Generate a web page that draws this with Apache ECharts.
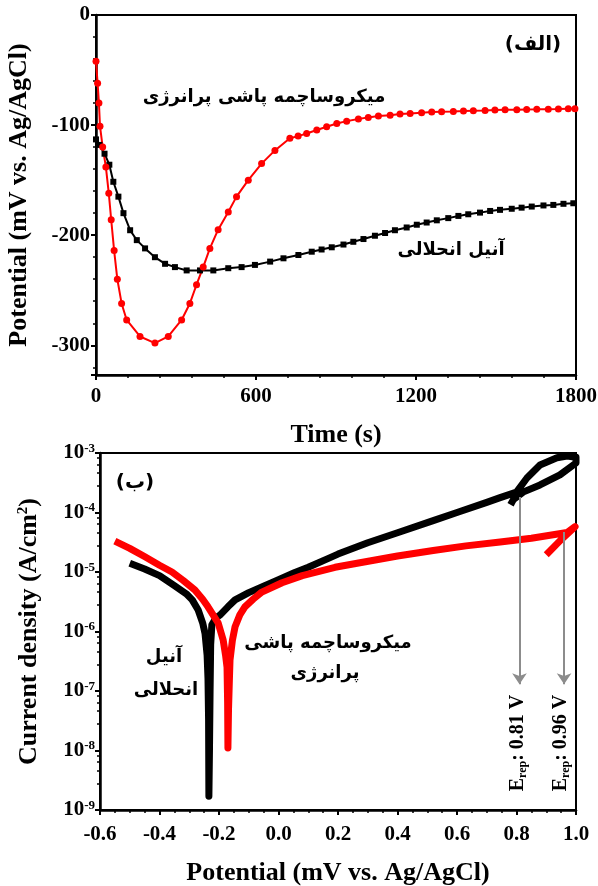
<!DOCTYPE html>
<html dir="ltr">
<head>
<meta charset="utf-8">
<script src="https://cdn.jsdelivr.net/npm/echarts@6/dist/echarts.min.js"></script>
<style>
  html, body { margin: 0; padding: 0; background: #fff; }
  #main { width: 598px; height: 886px; }
</style>
</head>
<body>
<div id="main"></div>
<script>
  // (الف) open circuit potential vs time
  var shotTime = [0, 6, 11, 15, 25, 37, 48, 57, 68, 80, 96, 115, 165, 221, 271, 321, 352, 377, 402, 427,
    458, 496, 527, 571, 621, 671, 727, 758, 790, 828, 865, 903, 940, 984, 1021, 1059, 1103, 1140, 1178, 1221,
    1259, 1296, 1340, 1378, 1415, 1459, 1496, 1534, 1578, 1615, 1653, 1696, 1734, 1771, 1796];
  var shotOcp = [-42, -62, -80, -101, -120, -138, -162, -186, -214, -240, -262, -277, -292, -298, -292, -277, -262, -245, -229, -212,
    -195, -179, -165, -150, -135, -123, -112, -110, -107.6, -104.5, -101.5, -98.5, -96.4, -94.5, -93, -91.8, -91, -90, -89.4, -88.8,
    -88.2, -87.9, -87.6, -87.3, -87, -86.7, -86.4, -86.1, -86, -85.8, -85.7, -85.5, -85.4, -85.2, -85.1];

  var annealTime = [0, 13, 32, 50, 65, 84, 103, 128, 153, 184, 221, 259, 296, 340, 390, 440, 496, 546, 596, 653,
    703, 759, 809, 846, 884, 928, 965, 1003, 1046, 1084, 1121, 1165, 1203, 1240, 1278, 1321, 1359, 1396, 1440, 1478,
    1515, 1559, 1596, 1634, 1678, 1715, 1753, 1790];
  var annealOcp = [-113, -118, -126, -136, -151.5, -165, -180, -195.5, -204.5, -212, -220, -226, -229, -232, -232, -232, -230, -229, -227, -224,
    -221, -218, -215, -213, -211, -208.5, -206, -203.5, -200.5, -198, -195.5, -193, -190.5, -188.5, -186.5, -184.5, -182.5, -181, -179.5, -178,
    -177, -176, -175, -174, -173, -172.5, -171.5, -171];

  // (ب) polarization curves
  var annealE = [-0.50, -0.45, -0.40, -0.35, -0.31, -0.29, -0.27, -0.255, -0.247, -0.240,
    -0.237, -0.235, -0.234, -0.232, -0.230, -0.228, -0.224, -0.21, -0.196, -0.17,
    -0.146, -0.10, -0.056, 0.0, 0.055, 0.10, 0.166, 0.20, 0.30, 0.40,
    0.52, 0.60, 0.70, 0.745, 0.80, 0.835, 0.879, 0.936, 0.97, 1.0,
    1.0, 0.946, 0.879, 0.822, 0.79, 0.78];
  var annealI = [1.4e-5, 1.12e-5, 8.7e-6, 5.9e-6, 4.3e-6, 3.4e-6, 2.3e-6, 1.4e-6, 9.3e-7, 4e-7,
    1.6e-7, 3.2e-8, 1.7e-9, 1e-8, 1e-7, 6e-7, 1.3e-6, 1.7e-6, 1.9e-6, 2.6e-6,
    3.4e-6, 4.5e-6, 5.6e-6, 7.4e-6, 9.8e-6, 1.2e-5, 1.68e-5, 2.0e-5, 3.1e-5, 4.57e-5,
    7.3e-5, 1e-4, 1.48e-4, 1.78e-4, 2.2e-4, 3.8e-4, 6.3e-4, 8.3e-4, 8.9e-4, 8.5e-4,
    6.8e-4, 4.3e-4, 2.9e-4, 2.2e-4, 1.66e-4, 1.35e-4];

  var shotE = [-0.55, -0.50, -0.449, -0.40, -0.358, -0.32, -0.281, -0.255, -0.237, -0.22,
    -0.203, -0.186, -0.178, -0.173, -0.171, -0.170, -0.168, -0.165, -0.163, -0.155,
    -0.146, -0.13, -0.113, -0.085, -0.056, 0.012, 0.08, 0.19, 0.297, 0.40,
    0.52, 0.63, 0.745, 0.85, 0.97, 0.997, 0.95, 0.90];
  var shotI = [3.3e-5, 2.5e-5, 1.8e-5, 1.3e-5, 1.0e-5, 7.2e-6, 5.0e-6, 3.5e-6, 2.6e-6, 1.9e-6,
    1.4e-6, 7.2e-7, 4e-7, 2.5e-7, 6.3e-8, 1.1e-8, 5e-8, 1.6e-7, 3.3e-7, 7.1e-7,
    1.2e-6, 1.9e-6, 2.6e-6, 3.5e-6, 4.6e-6, 6.6e-6, 8.7e-6, 1.2e-5, 1.5e-5, 1.86e-5,
    2.3e-5, 2.75e-5, 3.2e-5, 3.7e-5, 4.6e-5, 5.8e-5, 3.5e-5, 1.95e-5];

  // repassivation potentials (arrows)
  var erepE = [0.81, 0.96];
  var erepFrom = [1.83e-4, 4.7e-5];
  var erepTo = [1.3e-7, 1.3e-7];
  var erepText = ['0.81 V', '0.96 V'];

  function pairs(xs, ys) {
    return xs.map(function (x, i) { return [x, ys[i]]; });
  }

  var serif = '"Liberation Serif", "Times New Roman", serif';
  var fa = '"DejaVu Sans", sans-serif';
  var tickFont = { color: '#000', fontFamily: serif, fontWeight: 'bold', fontSize: 21 };
  var nameFont = { color: '#000', fontFamily: serif, fontWeight: 'bold', fontSize: 26 };
  var axisLine = { show: true, onZero: false, lineStyle: { color: '#000', width: 2.5 } };

  var chart = echarts.init(document.getElementById('main'));

  var option = {
    animation: false,
    backgroundColor: '#fff',
    grid: [
      { left: 96, top: 15, width: 480, height: 360, show: true, borderColor: '#000', borderWidth: 2, backgroundColor: 'transparent', outerBoundsMode: 'none' },
      { left: 100, top: 453, width: 476, height: 357, show: true, borderColor: '#000', borderWidth: 2, backgroundColor: 'transparent', outerBoundsMode: 'none' }
    ],
    xAxis: [
      {
        gridIndex: 0, type: 'value', min: 0, max: 1800, interval: 600,
        name: 'Time (s)', nameLocation: 'middle', nameGap: 47, nameTextStyle: nameFont,
        axisLine: axisLine,
        axisTick: { inside: false, length: 5, lineStyle: { width: 2 } },
        minorTick: { show: true, splitNumber: 5, length: 3, lineStyle: { color: '#000', width: 1.5 } },
        splitLine: { show: false },
        axisLabel: Object.assign({ margin: 11, formatter: function (v) { return String(v); } }, tickFont)
      },
      {
        gridIndex: 1, type: 'value', min: -0.6, max: 1.0, interval: 0.2,
        name: 'Potential (mV vs. Ag/AgCl)', nameLocation: 'middle', nameGap: 50, nameTextStyle: nameFont,
        axisLine: axisLine,
        axisTick: { inside: false, length: 5, lineStyle: { width: 2 } },
        minorTick: { show: true, splitNumber: 4, length: 3, lineStyle: { color: '#000', width: 1.5 } },
        splitLine: { show: false },
        axisLabel: Object.assign({
          margin: 14,
          formatter: function (v) { return Math.abs(v) < 1e-9 ? '0.0' : v.toFixed(1); }
        }, tickFont)
      }
    ],
    yAxis: [
      {
        gridIndex: 0, type: 'value', min: -327, max: 0, splitNumber: 3,
        name: 'Potential (mV vs. Ag/AgCl)', nameLocation: 'middle', nameGap: 64, nameTextStyle: nameFont,
        axisLine: axisLine,
        axisTick: { inside: false, length: 5, lineStyle: { width: 2 } },
        minorTick: { show: true, splitNumber: 5, length: 3, lineStyle: { color: '#000', width: 1.5 } },
        splitLine: { show: false },
        axisLabel: Object.assign({ margin: 6, showMinLabel: false }, tickFont)
      },
      {
        gridIndex: 1, type: 'log', logBase: 10, min: 1e-9, max: 1e-3,
        name: 'Current density (A/cm{sup|2})', nameLocation: 'middle', nameGap: 58,
        nameTextStyle: Object.assign({
          rich: { sup: { fontFamily: serif, fontWeight: 'bold', fontSize: 15, verticalAlign: 'top', color: '#000' } }
        }, nameFont),
        axisLine: axisLine,
        axisTick: { inside: false, length: 5, lineStyle: { width: 2 } },
        minorTick: { show: true, splitNumber: 5, length: 3, lineStyle: { color: '#000', width: 1.5 } },
        splitLine: { show: false },
        axisLabel: {
          margin: 5,
          formatter: function (v) {
            return '{b|10}{s|' + Math.round(Math.log10(v)) + '}';
          },
          rich: {
            b: { fontFamily: serif, fontWeight: 'bold', fontSize: 21, color: '#000', lineHeight: 22 },
            s: { fontFamily: serif, fontWeight: 'bold', fontSize: 13, color: '#000', verticalAlign: 'top' }
          }
        }
      }
    ],
    series: [
      {
        name: 'annealed', type: 'line', xAxisIndex: 0, yAxisIndex: 0,
        data: pairs(annealTime, annealOcp),
        symbol: 'rect', symbolSize: 6,
        itemStyle: { color: '#000' }, lineStyle: { color: '#000', width: 2 }
      },
      {
        name: 'shot', type: 'line', xAxisIndex: 0, yAxisIndex: 0,
        data: pairs(shotTime, shotOcp),
        symbol: 'circle', symbolSize: 7,
        itemStyle: { color: '#f00' }, lineStyle: { color: '#f00', width: 2 }
      },
      {
        name: 'annealed pol', type: 'line', xAxisIndex: 1, yAxisIndex: 1,
        data: pairs(annealE, annealI), showSymbol: false,
        lineStyle: { color: '#000', width: 7, join: 'round' }
      },
      {
        name: 'shot pol', type: 'line', xAxisIndex: 1, yAxisIndex: 1,
        data: pairs(shotE, shotI), showSymbol: false,
        lineStyle: { color: '#f00', width: 7, join: 'round' },
        markLine: {
          silent: true, symbol: ['none', 'arrow'], symbolSize: 11,
          label: { show: false },
          lineStyle: { color: '#8c8c8c', width: 2, type: 'solid' },
          data: erepE.map(function (e, i) {
            return [{ coord: [e, erepFrom[i]] }, { coord: [e, erepTo[i]] }];
          })
        }
      }
    ],
    graphic: [
      { type: 'text', x: 533, y: 45, style: { text: '(الف)', font: 'bold 20px ' + fa, fill: '#000', align: 'center', verticalAlign: 'middle' } },
      { type: 'text', x: 264, y: 97, style: { text: 'میکروساچمه پاشی پرانرژی', font: 'bold 18px ' + fa, fill: '#000', align: 'center', verticalAlign: 'middle' } },
      { type: 'text', x: 451, y: 250, style: { text: 'آنیل انحلالی', font: 'bold 18px ' + fa, fill: '#000', align: 'center', verticalAlign: 'middle' } },
      { type: 'text', x: 135, y: 483, style: { text: '(ب)', font: 'bold 20px ' + fa, fill: '#000', align: 'center', verticalAlign: 'middle' } },
      { type: 'text', x: 164, y: 657, style: { text: 'آنیل', font: 'bold 18px ' + fa, fill: '#000', align: 'center', verticalAlign: 'middle' } },
      { type: 'text', x: 166, y: 690, style: { text: 'انحلالی', font: 'bold 18px ' + fa, fill: '#000', align: 'center', verticalAlign: 'middle' } },
      { type: 'text', x: 328, y: 643, style: { text: 'میکروساچمه پاشی', font: 'bold 18px ' + fa, fill: '#000', align: 'center', verticalAlign: 'middle' } },
      { type: 'text', x: 325, y: 673, style: { text: 'پرانرژی', font: 'bold 18px ' + fa, fill: '#000', align: 'center', verticalAlign: 'middle' } }
    ].concat(erepText.map(function (t, i) {
      return {
        type: 'text', x: i === 0 ? 518 : 561, y: 743, rotation: Math.PI / 2,
        style: {
          text: '{e|E}{s|rep}{e|: ' + t + '}',
          align: 'center', verticalAlign: 'middle',
          rich: {
            e: { fontFamily: serif, fontWeight: 'bold', fontSize: 20, fill: '#000', lineHeight: 22 },
            s: { fontFamily: serif, fontWeight: 'bold', fontSize: 12, fill: '#000', verticalAlign: 'bottom' }
          }
        }
      };
    }))
  };

  chart.setOption(option);
</script>
</body>
</html>
